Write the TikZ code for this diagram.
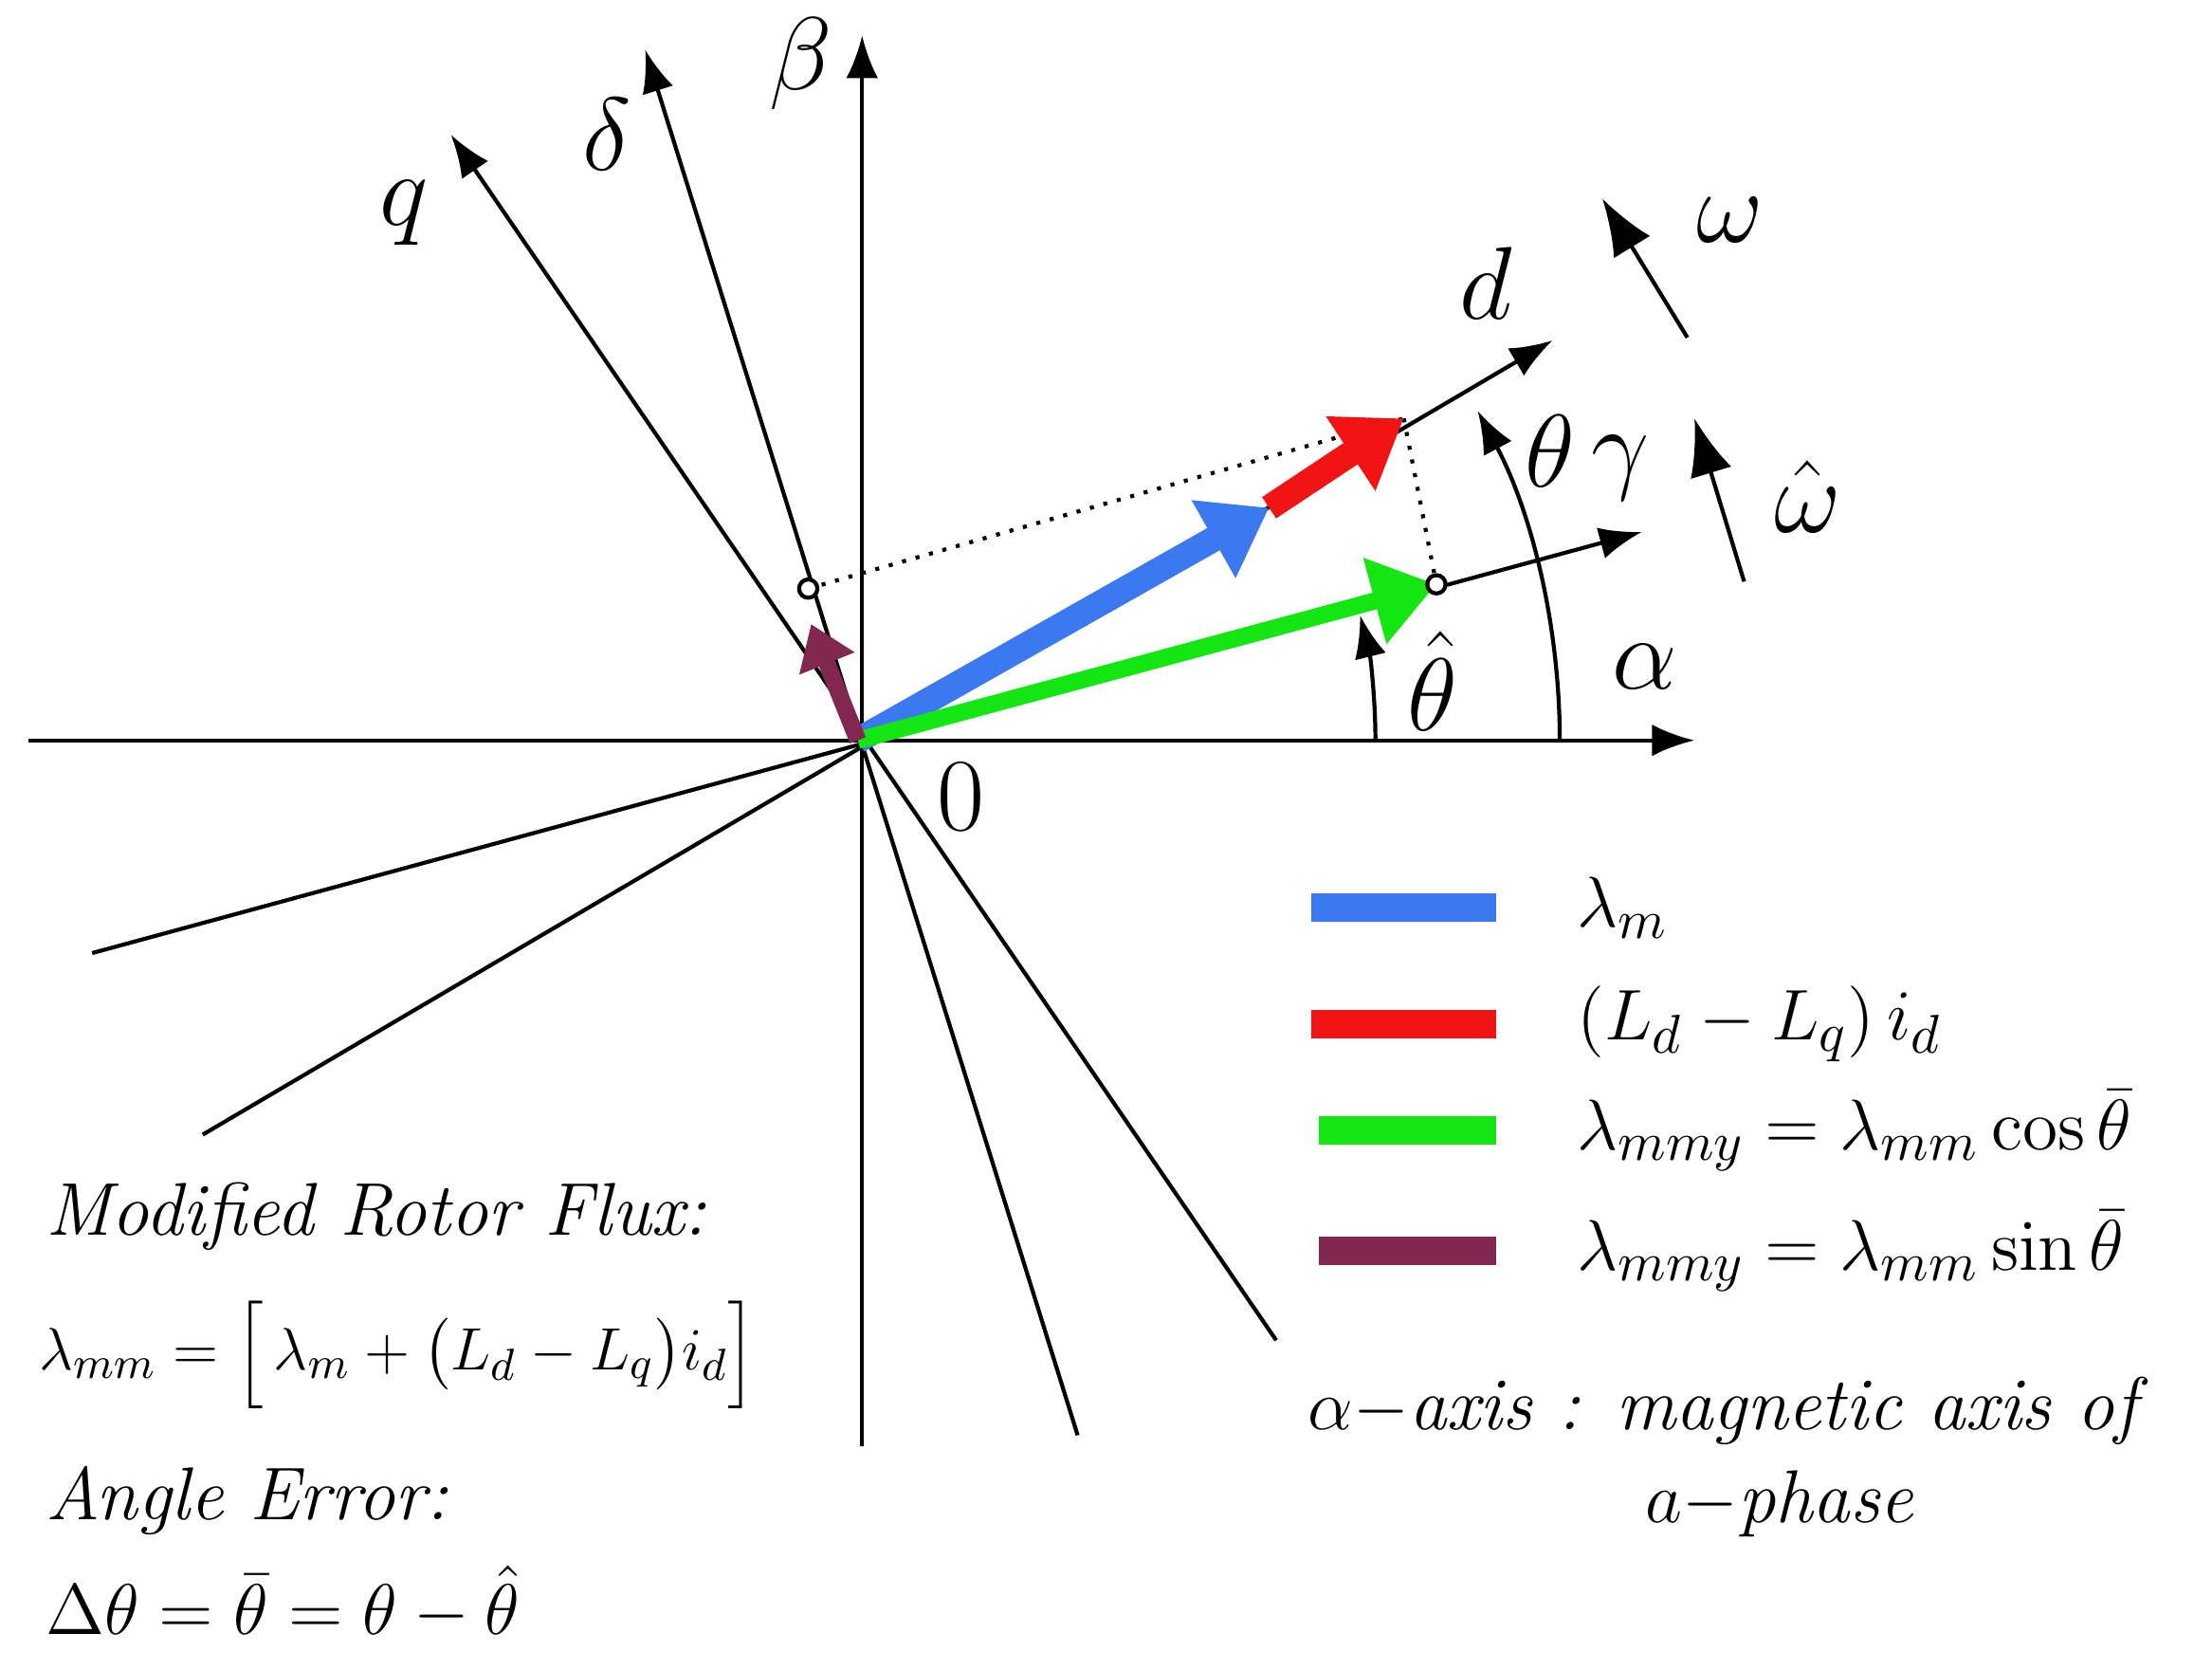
\documentclass[tikz,border=0pt]{standalone}
\usepackage{amsmath}
\usepackage{tikz}
\usetikzlibrary{arrows.meta,calc}
\definecolor{myblue}{RGB}{60,120,240}
\definecolor{myred}{RGB}{240,20,20}
\definecolor{mygreen}{RGB}{20,230,20}
\definecolor{mypurple}{RGB}{130,40,80}

\tikzset{
    axis/.style={thick, -{Latex[length=3mm]}},
    vec/.style={line width=1.8mm, -{Triangle[length=4.5mm,width=6mm]}},
    leg/.style={line width=2mm},
    lbl/.style={font=\fontsize{20}{22}\selectfont},
    txt/.style={anchor=west, font=\fontsize{15}{18}\selectfont},
    dot/.style={circle, draw, thick, fill=white, inner sep=1.3pt},
}

\begin{document}
\begin{tikzpicture}[x=1cm,y=-1cm]
    \useasboundingbox (0,0) rectangle (15.6,11.77);
    % Axes
    \coordinate (O) at (6.05,5.22);
    \draw[axis] (0.2,5.22) -- (11.95,5.22);
    \draw[axis] (6.08,10.2) -- (6.08,0.25);
    \draw[axis] (9.0,9.45) -- (3.18,0.95);
    \draw[axis] (7.6,10.12) -- (4.55,0.35);
    \draw[axis] (1.43,8.0) -- (10.95,2.4);
    \draw[axis] (0.65,6.72) -- (11.58,3.75);
    % Axis labels
    \node[lbl] at (5.65,0.45) {$\beta$};
    \node[lbl] at (4.28,0.95) {$\delta$};
    \node[lbl] at (2.85,1.5) {$q$};
    \node[lbl] at (10.48,2.0) {$d$};
    \node[lbl] at (11.43,3.3) {$\gamma$};
    \node[lbl] at (11.6,4.7) {$\alpha$};
    \node[lbl] at (6.78,5.62) {$0$};
    % Angles
    \draw[thick, -{Latex[length=3mm]}] (O) ++(0:4.95) arc[start angle=0, end angle=-28, radius=4.95];
    \draw[thick, -{Latex[length=3mm]}] (O) ++(0:3.65) arc[start angle=0, end angle=-14, radius=3.65];
    \node[lbl] at (10.93,3.18) {$\theta$};
    \node[lbl] at (10.1,4.8) {$\hat{\theta}$};
    % Speeds
    \draw[thick, -{Latex[length=4mm]}] (11.9,2.38) -- (11.3,1.4);
    \draw[thick, -{Latex[length=4mm]}] (12.3,4.1) -- (11.95,2.95);
    \node[lbl] at (12.2,1.55) {$\omega$};
    \node[lbl] at (12.75,3.5) {$\hat{\omega}$};
    % Flux vectors
    \coordinate (B) at (8.95,3.58);
    \coordinate (R) at (9.9,2.95);
    \coordinate (G) at (10.13,4.12);
    \coordinate (P) at (5.70,4.15);
    \draw[dotted, thick] (P) -- (R);
    \draw[dotted, thick] (R) -- (G);
    \draw[vec, myblue] (O) -- (B);
    \draw[vec, myred] (B) -- (R);
    \draw[vec, mygreen, line width=1.2mm] (O) -- (G);
    \draw[vec, mypurple, line width=1.2mm, -{Triangle[length=3mm,width=4mm]}] (O) -- ($(P)+(0.02,0.25)$);
    \node[dot] at (P) {};
    \node[dot] at (G) {};
    % Legend
    \draw[leg, myblue] (9.25,6.4) -- (10.55,6.4);
    \draw[leg, myred] (9.25,7.22) -- (10.55,7.22);
    \draw[leg, mygreen] (9.3,7.97) -- (10.55,7.97);
    \draw[leg, mypurple] (9.3,8.82) -- (10.55,8.82);
    \node[txt] at (11.0,6.4) {$\lambda_m$};
    \node[txt] at (11.0,7.22) {$\left(L_d-L_q\right)i_d$};
    \node[txt] at (11.0,7.97) {$\lambda_{mmy}=\lambda_{mm}\cos\bar{\theta}$};
    \node[txt] at (11.0,8.82) {$\lambda_{mmy}=\lambda_{mm}\sin\bar{\theta}$};
    % Notes
    \node[txt] at (0.2,8.58) {\itshape Modified Rotor Flux:};
    \node[txt, font=\fontsize{13}{16}\selectfont] at (0.15,9.55) {$\lambda_{mm}=\Big[\,\lambda_m+\big(L_d-L_q\big)i_d\Big]$};
    \node[txt] at (0.2,10.58) {\itshape Angle Error:};
    \node[txt] at (0.2,11.3) {$\Delta\theta=\bar{\theta}=\theta-\hat{\theta}$};
    \node[txt] at (9.1,9.95) {$\alpha-$\itshape axis : magnetic axis of};
    \node[font=\fontsize{15}{18}\selectfont] at (12.55,10.6) {$a-$\itshape phase};
\end{tikzpicture}
\end{document}
